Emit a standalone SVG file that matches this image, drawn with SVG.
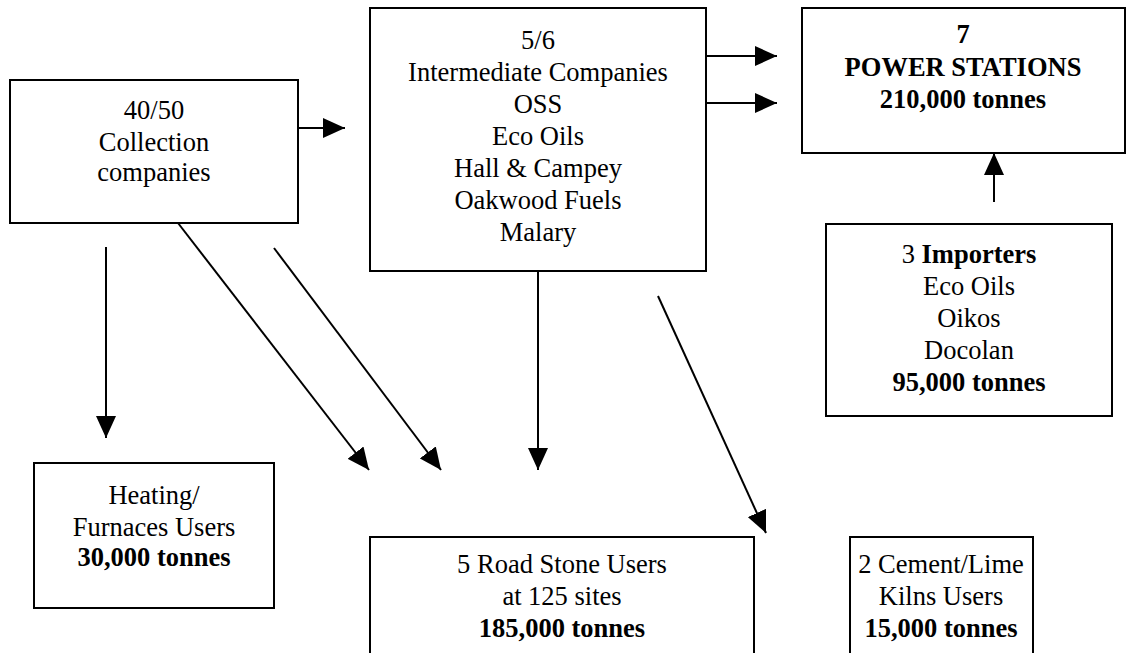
<svg xmlns="http://www.w3.org/2000/svg" width="1127" height="653" viewBox="0 0 1127 653">
<defs>
<marker id="ah" viewBox="0 0 22 20" refX="22" refY="10" markerWidth="22" markerHeight="20" markerUnits="userSpaceOnUse" orient="auto">
<path d="M0,0 L22,10 L0,20 Z" fill="#000"/>
</marker>
<style>
.box{fill:#fff;stroke:#000;stroke-width:2}
.t{font-family:"Liberation Serif","Times New Roman",serif;font-size:26.5px;fill:#000;text-anchor:middle}
.b{font-weight:bold}
.c{stroke:#000;stroke-width:2;fill:none;marker-end:url(#ah)}
</style>
</defs>
<rect width="1127" height="653" fill="#fff"/>
<g id="connectors">
<line class="c" x1="298" y1="128" x2="345" y2="128"/>
<line class="c" x1="706" y1="56" x2="777" y2="56"/>
<line class="c" x1="706" y1="103" x2="777" y2="103"/>
<line class="c" x1="994" y1="202" x2="994" y2="153"/>
<line class="c" x1="106" y1="247" x2="106" y2="438"/>
<line class="c" x1="178" y1="223" x2="369" y2="470"/>
<line class="c" x1="274" y1="248" x2="441" y2="470"/>
<line class="c" x1="538" y1="271" x2="538" y2="470"/>
<line class="c" x1="658" y1="296" x2="766" y2="533"/>
</g>
<g id="collection">
<rect class="box" x="10" y="80" width="288" height="143"/>
<text class="t" x="154" y="119">40/50</text>
<text class="t" x="154" y="151">Collection</text>
<text class="t" x="154" y="181">companies</text>
</g>
<g id="intermediate">
<rect class="box" x="370" y="8" width="336" height="263"/>
<text class="t" x="538" y="49">5/6</text>
<text class="t" x="538" y="81">Intermediate Companies</text>
<text class="t" x="538" y="113">OSS</text>
<text class="t" x="538" y="145">Eco Oils</text>
<text class="t" x="538" y="177">Hall &amp; Campey</text>
<text class="t" x="538" y="209">Oakwood Fuels</text>
<text class="t" x="538" y="241">Malary</text>
</g>
<g id="power">
<rect class="box" x="802" y="8" width="323" height="145"/>
<text class="t b" x="963" y="43">7</text>
<text class="t b" x="963" y="76">POWER STATIONS</text>
<text class="t b" x="963" y="108">210,000 tonnes</text>
</g>
<g id="importers">
<rect class="box" x="826" y="224" width="286" height="192"/>
<text class="t" x="969" y="263">3 <tspan class="b">Importers</tspan></text>
<text class="t" x="969" y="295">Eco Oils</text>
<text class="t" x="969" y="327">Oikos</text>
<text class="t" x="969" y="359">Docolan</text>
<text class="t b" x="969" y="391">95,000 tonnes</text>
</g>
<g id="heating">
<rect class="box" x="34" y="463" width="240" height="145"/>
<text class="t" x="154" y="504">Heating/</text>
<text class="t" x="154" y="536">Furnaces Users</text>
<text class="t b" x="154" y="566">30,000 tonnes</text>
</g>
<g id="roadstone">
<rect class="box" x="370" y="537" width="384" height="130"/>
<text class="t" x="562" y="573">5 Road Stone Users</text>
<text class="t" x="562" y="605">at 125 sites</text>
<text class="t b" x="562" y="637">185,000 tonnes</text>
</g>
<g id="cement">
<rect class="box" x="850" y="537" width="183" height="130"/>
<text class="t" x="941" y="573">2 Cement/Lime</text>
<text class="t" x="941" y="605">Kilns Users</text>
<text class="t b" x="941" y="637">15,000 tonnes</text>
</g>
</svg>
